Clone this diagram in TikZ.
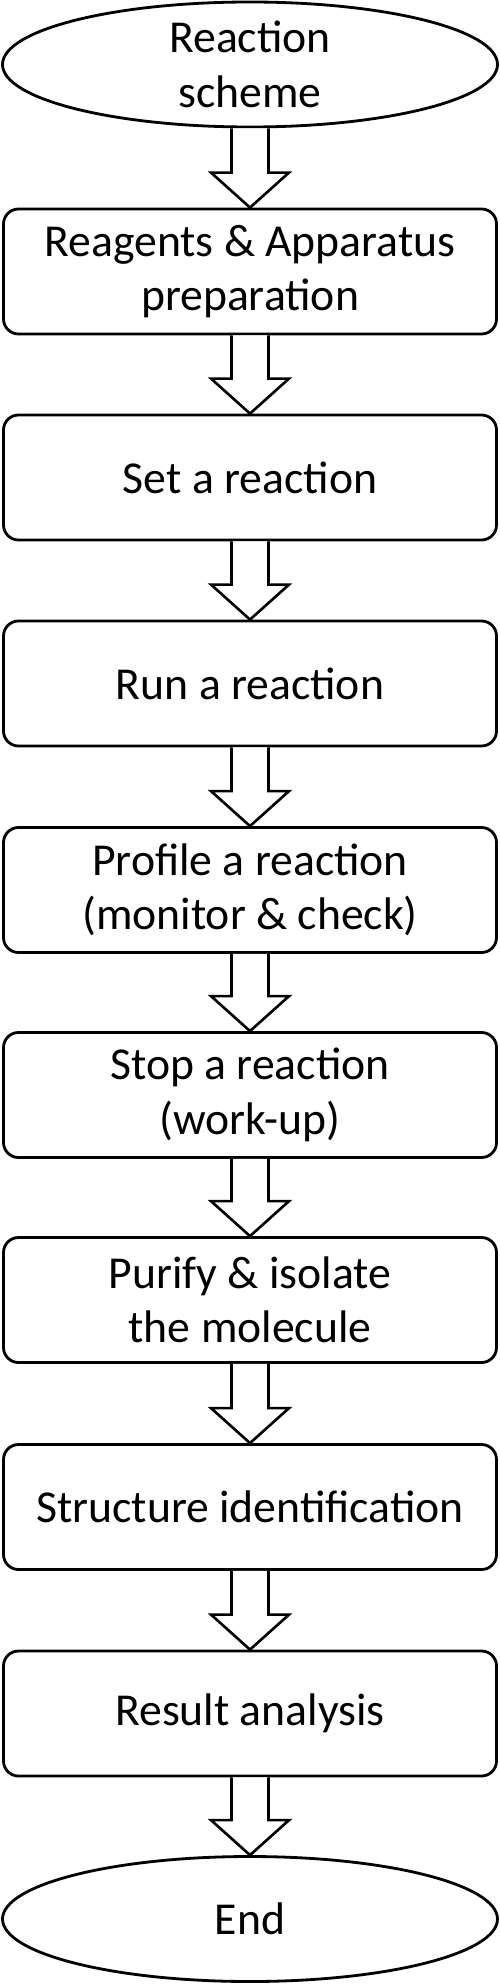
\documentclass[tikz,border=0pt]{standalone}
\usepackage{fontspec}
\setmainfont{Carlito}
\usetikzlibrary{shapes.geometric,calc}

\newcommand{\hollowarrow}[2]{%
  \path[draw,line width=1.5pt,fill=white,line join=miter]
    ($(#1.south)+(-0.37,0)$) -- ($(#2.north)+(-0.37,0.7)$) -- ($(#2.north)+(-0.78,0.7)$)
    -- (#2.north) -- ($(#2.north)+(0.78,0.7)$) -- ($(#2.north)+(0.37,0.7)$)
    -- ($(#1.south)+(0.37,0)$);}

\begin{document}
\begin{tikzpicture}[
  stepbox/.style={draw, line width=1.6pt, rounded corners=0.3cm, minimum width=9.86cm, minimum height=2.5cm, inner sep=0pt, align=center, font=\fontsize{26}{31}\selectfont},
  endoval/.style={draw, line width=1.6pt, ellipse, minimum width=9.9cm, minimum height=2.5cm, inner sep=0pt, align=center, font=\fontsize{26}{31}\selectfont}]
\useasboundingbox (0,0) rectangle (10,-39.7);
\node[endoval] (0) at (5,-1.29) {Reaction\\scheme};
\node[stepbox] (1) at (5,-5.43) {Reagents \& Apparatus\\preparation};
\node[stepbox] (2) at (5,-9.55) {Set a reaction};
\node[stepbox] (3) at (5,-13.67) {Run a reaction};
\node[stepbox] (4) at (5,-17.8) {Profile a reaction\\(monitor \& check)};
\node[stepbox] (5) at (5,-21.9) {Stop a reaction\\(work-up)};
\node[stepbox] (6) at (5,-26.0) {Purify \& isolate\\the molecule};
\node[stepbox] (7) at (5,-30.14) {Structure identification};
\node[stepbox] (8) at (5,-34.27) {Result analysis};
\node[endoval] (9) at (5,-38.38) {End};

\hollowarrow{0}{1}
\hollowarrow{1}{2}
\hollowarrow{2}{3}
\hollowarrow{3}{4}
\hollowarrow{4}{5}
\hollowarrow{5}{6}
\hollowarrow{6}{7}
\hollowarrow{7}{8}
\hollowarrow{8}{9}

\end{tikzpicture}
\end{document}
